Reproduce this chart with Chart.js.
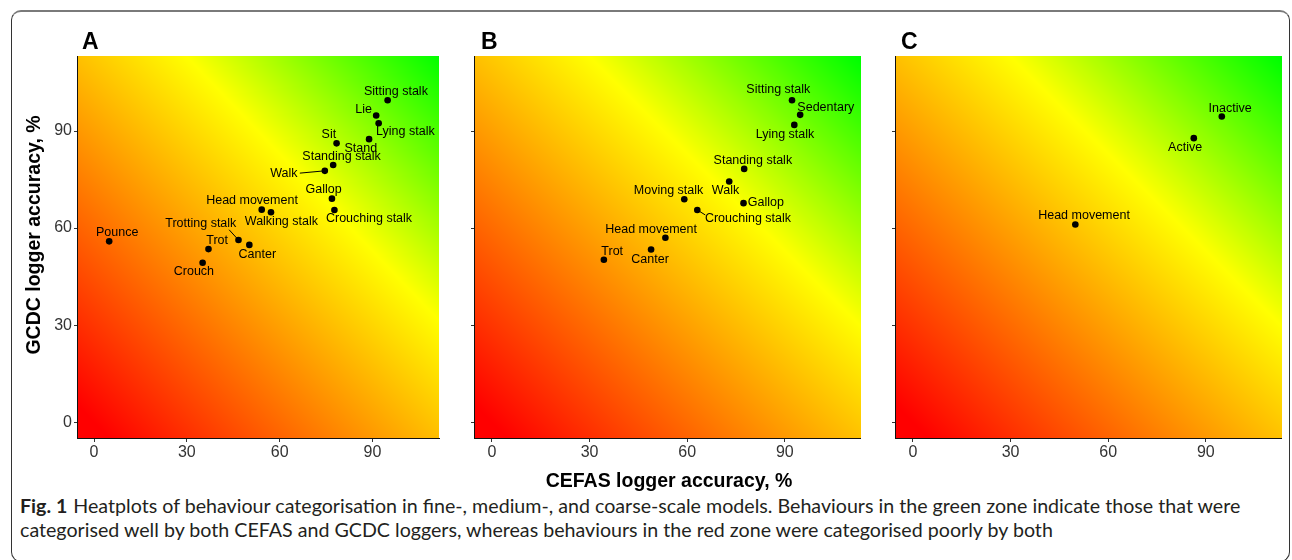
<!DOCTYPE html>
<html>
<head>
<meta charset="utf-8">
<script src="https://cdn.jsdelivr.net/npm/chart.js@4.4.1/dist/chart.umd.min.js"></script>
<style>
  html, body { margin: 0; padding: 0; background: #fff; overflow: hidden; }
  body { width: 1292px; height: 560px; position: relative; font-family: "Liberation Sans", Arial, sans-serif; }
  .frame { position: absolute; left: 11px; top: 10px; width: 1277px; height: 549px;
           border: 1px solid #333; border-top: 2px solid #7a7a7a; border-radius: 10px; }
  canvas { position: absolute; }
  .panel-letter { position: absolute; font: bold 23px/23px "Liberation Sans", Arial, sans-serif; color: #000; }
  .axis-title { position: absolute; font: bold 19.5px/24px "Liberation Sans", Arial, sans-serif; color: #000;
                text-align: center; white-space: nowrap; }
  .caption { position: absolute; left: 20px; font-family: Lato, "Open Sans", sans-serif; color: #231f20;
             white-space: nowrap; line-height: 1; }
  .caption b { margin-right: 6px; }
</style>
</head>
<body>
<div class="frame"></div>

<canvas id="panelA" width="430" height="440" style="left:20px;top:40px"></canvas>
<canvas id="panelB" width="406" height="440" style="left:464px;top:40px"></canvas>
<canvas id="panelC" width="407" height="440" style="left:885px;top:40px"></canvas>

<div class="panel-letter" style="left:82px;top:30px">A</div>
<div class="panel-letter" style="left:481px;top:30px">B</div>
<div class="panel-letter" style="left:901px;top:30px">C</div>

<div class="axis-title" style="left:369px;top:468px;width:600px">CEFAS logger accuracy, %</div>
<div class="axis-title" style="left:-117px;top:223px;width:300px;transform:rotate(-90deg)">GCDC logger accuracy, %</div>

<div class="caption" id="cap1"><b>Fig. 1</b>Heatplots of behaviour categorisation in fine-, medium-, and coarse-scale models. Behaviours in the green zone indicate those that were</div>
<div class="caption" id="cap2">categorised well by both CEFAS and GCDC loggers, whereas behaviours in the red zone were categorised poorly by both</div>

<script>
// fine-scale model (A)
const behavioursA = ['Sitting stalk', 'Lie', 'Lying stalk', 'Stand', 'Sit', 'Standing stalk', 'Walk', 'Gallop',
  'Crouching stalk', 'Head movement', 'Walking stalk', 'Pounce', 'Trotting stalk', 'Canter', 'Trot', 'Crouch'];
const cefasA = [94.9, 91.2, 92.0, 88.9, 78.4, 77.3, 74.6, 76.9, 77.7, 54.2, 57.2, 4.9, 46.7, 50.2, 37.0, 35.1];
const gcdcA = [99.5, 94.8, 92.4, 87.5, 86.2, 79.5, 77.7, 69.1, 65.6, 65.7, 64.9, 55.9, 56.3, 54.8, 53.5, 49.3];

// medium-scale model (B)
const behavioursB = ['Sitting stalk', 'Sedentary', 'Lying stalk', 'Standing stalk', 'Walk', 'Gallop',
  'Moving stalk', 'Crouching stalk', 'Head movement', 'Canter', 'Trot'];
const cefasB = [92.2, 94.7, 92.9, 77.5, 72.9, 77.3, 59.1, 63.1, 53.3, 48.9, 34.4];
const gcdcB = [99.5, 95.0, 91.9, 78.3, 74.4, 67.7, 68.9, 65.6, 57.0, 53.4, 50.2];

// coarse-scale model (C)
const behavioursC = ['Inactive', 'Active', 'Head movement'];
const cefasC = [94.9, 86.3, 49.9];
const gcdcC = [94.5, 87.8, 61.1];

const xTicks = [0, 30, 60, 90];
const yTicks = [0, 30, 60, 90];

// label placement (pixel offsets from the point, like ggrepel put them)
const labelOffA = [[8.3, -8.3], [-12.6, -5.7], [26.7, 8.4], [-8.3, 9.7], [-7.7, -9], [8.4, -8.3], [-41, 2.7], [-8.3, -9],
  [34.6, 9], [-9.7, -8.7], [10.4, 9.7], [8, -8.3], [-37.7, -16.6], [8, 9.3], [8.6, -8.3], [-8.7, 9]];
const labelOffB = [[-13.7, -10.3], [25.7, -7.7], [-9.3, 10], [8.7, -8.3], [-3.7, 9], [22.4, -1], [-15.7, -8.3],
  [50.7, 9], [-14.3, -8], [-1, 10.3], [8.3, -8]];
const labelOffC = [[8.3, -7.7], [-8.7, 9.4], [8.7, -9]];
const segA = { 'Walk': [-25, 2.3], 'Trotting stalk': [-9.4, -10.3] };
const segB = { 'Crouching stalk': [8, 5] };

// background: x + y mapped red -> yellow -> green
const heatStops = [0, 143, 225];
const heatColours = [[255, 0, 0], [255, 255, 0], [0, 255, 0]];

function heat(v) {
  const i = v <= heatStops[1] ? 0 : 1;
  let t = (v - heatStops[i]) / (heatStops[i + 1] - heatStops[i]);
  t = Math.max(0, Math.min(1, t));
  const a = heatColours[i], b = heatColours[i + 1];
  return [a[0] + (b[0] - a[0]) * t, a[1] + (b[1] - a[1]) * t, a[2] + (b[2] - a[2]) * t];
}

const heatPlugin = {
  id: 'heat',
  beforeDraw(chart) {
    const { ctx, chartArea: a, scales } = chart;
    const w = Math.round(a.right - a.left), h = Math.round(a.bottom - a.top);
    const off = document.createElement('canvas');
    off.width = w; off.height = h;
    const octx = off.getContext('2d');
    const img = octx.createImageData(w, h);
    for (let j = 0; j < h; j++) {
      const yv = scales.y.getValueForPixel(a.top + j + 0.5);
      for (let i = 0; i < w; i++) {
        const xv = scales.x.getValueForPixel(a.left + i + 0.5);
        const c = heat(xv + yv);
        const p = (j * w + i) * 4;
        img.data[p] = c[0]; img.data[p + 1] = c[1]; img.data[p + 2] = c[2]; img.data[p + 3] = 255;
      }
    }
    octx.putImageData(img, 0, 0);
    ctx.drawImage(off, a.left, a.top);
  }
};

const labelPlugin = {
  id: 'pointLabels',
  afterDatasetsDraw(chart, args, opts) {
    const ctx = chart.ctx;
    const pts = chart.getDatasetMeta(0).data;
    ctx.save();
    ctx.font = '12.5px "Liberation Sans", Arial, sans-serif';
    ctx.fillStyle = '#000';
    ctx.strokeStyle = '#000';
    ctx.lineWidth = 1;
    ctx.textAlign = 'center';
    ctx.textBaseline = 'middle';
    opts.names.forEach((name, i) => {
      const p = pts[i];
      const s = opts.seg[name];
      if (s) {
        ctx.beginPath();
        ctx.moveTo(p.x, p.y);
        ctx.lineTo(p.x + s[0], p.y + s[1]);
        ctx.stroke();
      }
      ctx.fillText(name, p.x + opts.off[i][0], p.y + opts.off[i][1]);
    });
    ctx.restore();
  }
};

function makePanel(id, names, xs, ys, off, seg, xMax, yAxisWidth, padRight, showYLabels) {
  new Chart(document.getElementById(id), {
    type: 'scatter',
    data: {
      datasets: [{
        data: xs.map((x, i) => ({ x: x, y: ys[i] })),
        backgroundColor: '#000',
        borderWidth: 0,
        pointRadius: 3.3,
        pointHoverRadius: 3.3
      }]
    },
    options: {
      responsive: false,
      animation: false,
      devicePixelRatio: 1,
      events: [],
      layout: { padding: { top: 16, right: padRight, left: 0, bottom: 0 } },
      plugins: {
        legend: { display: false },
        tooltip: { enabled: false },
        pointLabels: { names: names, off: off, seg: seg }
      },
      scales: {
        x: {
          type: 'linear',
          min: -5.5,
          max: xMax,
          afterBuildTicks: s => { s.ticks = xTicks.map(v => ({ value: v })); },
          afterFit: s => { s.height = 42; },
          ticks: { color: '#333', padding: 1, font: { size: 16, family: '"Liberation Sans", Arial, sans-serif' } },
          grid: { drawOnChartArea: false, drawTicks: true, tickLength: 4, color: '#333' },
          border: { display: true, color: '#111', width: 1 }
        },
        y: {
          type: 'linear',
          min: -4.9,
          max: 113.2,
          afterBuildTicks: s => { s.ticks = yTicks.map(v => ({ value: v })); },
          afterFit: s => { s.width = yAxisWidth; },
          ticks: { display: showYLabels, color: '#333', padding: 2, font: { size: 16, family: '"Liberation Sans", Arial, sans-serif' } },
          grid: { drawOnChartArea: false, drawTicks: true, tickLength: 3, color: '#333' },
          border: { display: true, color: '#111', width: 1 }
        }
      }
    },
    plugins: [heatPlugin, labelPlugin]
  });
}

makePanel('panelA', behavioursA, cefasA, gcdcA, labelOffA, segA, 111.6, 57, 10.7, true);
makePanel('panelB', behavioursB, cefasB, gcdcB, labelOffB, segB, 113.3, 10, 9.3, false);
makePanel('panelC', behavioursC, cefasC, gcdcC, labelOffC, {}, 113.3, 10, 10.3, false);

// fit the caption to the width it has in the figure
function fitCaption() {
  const c1 = document.getElementById('cap1'), c2 = document.getElementById('cap2');
  c1.style.fontSize = '16px';
  const w = c1.getBoundingClientRect().width;
  const fs = 16 * 1222 / w;
  [c1, c2].forEach(c => { c.style.fontSize = fs.toFixed(2) + 'px'; });
  c1.style.top = (513.3 - 0.887 * fs).toFixed(1) + 'px';
  c2.style.top = (537.3 - 0.887 * fs).toFixed(1) + 'px';
}
fitCaption();
if (document.fonts) document.fonts.ready.then(fitCaption);
</script>
</body>
</html>
